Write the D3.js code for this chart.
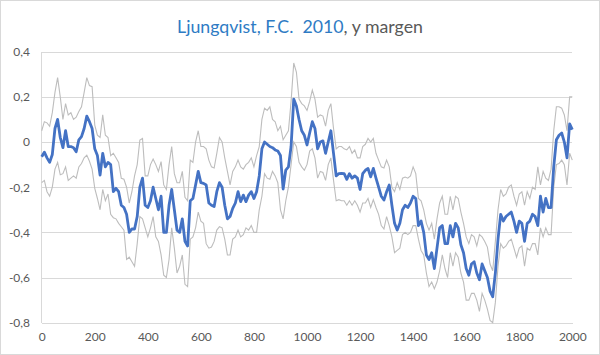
<!DOCTYPE html>
<html><head><meta charset="utf-8">
<script src="https://cdn.jsdelivr.net/npm/d3@7/dist/d3.min.js"></script>
<style>
body{margin:0;background:#fff}
svg{display:block}
text{font-family:Lato,"Open Sans",sans-serif}
</style>
</head><body>
<svg id="chart" width="600" height="355"></svg>
<script>
const years = d3.range(0, 2001, 10);
const reconstruction = [
-0.065,-0.045,-0.07,-0.09,-0.055,0.06,0.10,0.02,-0.025,0.05,
-0.02,-0.02,-0.025,-0.043,0.01,0.024,0.06,0.115,0.09,0.06,
-0.03,-0.06,-0.146,-0.05,-0.11,-0.09,-0.10,-0.22,-0.205,-0.22,
-0.28,-0.29,-0.32,-0.40,-0.385,-0.385,-0.33,-0.20,-0.16,-0.28,
-0.29,-0.26,-0.20,-0.25,-0.30,-0.24,-0.40,-0.40,-0.28,-0.21,
-0.30,-0.39,-0.40,-0.34,-0.44,-0.46,-0.26,-0.25,-0.19,-0.13,
-0.18,-0.183,-0.19,-0.27,-0.28,-0.286,-0.22,-0.18,-0.20,-0.28,
-0.34,-0.33,-0.294,-0.27,-0.22,-0.264,-0.235,-0.264,-0.235,-0.22,
-0.25,-0.22,-0.15,-0.03,0.0,-0.01,-0.02,-0.025,-0.035,-0.04,
-0.06,-0.208,-0.124,-0.11,-0.02,0.19,0.16,0.10,0.05,0.03,
-0.013,0.04,0.09,0.06,-0.03,0.0,0.005,-0.05,0.0,0.05,
-0.05,-0.15,-0.14,-0.139,-0.14,-0.165,-0.14,-0.16,-0.15,-0.16,
-0.21,-0.14,-0.125,-0.117,-0.154,-0.117,-0.16,-0.20,-0.24,-0.257,
-0.22,-0.19,-0.28,-0.36,-0.39,-0.36,-0.30,-0.28,-0.29,-0.27,
-0.24,-0.25,-0.37,-0.35,-0.40,-0.50,-0.52,-0.49,-0.56,-0.47,
-0.38,-0.37,-0.45,-0.45,-0.37,-0.42,-0.36,-0.38,-0.455,-0.49,
-0.56,-0.59,-0.54,-0.53,-0.58,-0.61,-0.54,-0.57,-0.60,-0.66,
-0.685,-0.58,-0.43,-0.32,-0.35,-0.33,-0.32,-0.31,-0.35,-0.40,
-0.35,-0.36,-0.44,-0.36,-0.35,-0.32,-0.33,-0.37,-0.24,-0.31,
-0.25,-0.29,-0.29,-0.11,0.01,0.03,0.04,0.0,-0.07,0.08,
0.055];
const upperMargin = [
0.05,0.09,0.085,0.07,0.13,0.22,0.285,0.20,0.10,0.17,
0.12,0.13,0.10,0.11,0.135,0.156,0.22,0.285,0.25,0.245,
0.075,0.03,0.02,0.12,0.03,0.02,-0.06,-0.05,-0.07,-0.09,
-0.161,-0.165,-0.20,-0.27,-0.22,-0.15,-0.10,0.009,0.016,-0.15,
-0.15,-0.10,-0.075,-0.10,-0.13,-0.087,-0.19,-0.21,-0.10,-0.02,
-0.14,-0.18,-0.18,-0.13,-0.245,-0.26,-0.08,-0.09,0.0,0.05,
-0.02,-0.02,-0.03,-0.08,-0.11,-0.115,-0.05,0.02,0.0,-0.07,
-0.13,-0.19,-0.13,-0.11,-0.08,-0.11,-0.12,-0.10,-0.09,-0.07,
-0.11,-0.06,-0.02,0.10,0.15,0.14,0.156,0.10,0.09,0.05,
0.07,0.01,0.03,0.05,0.18,0.35,0.31,0.19,0.17,0.16,
0.14,0.18,0.23,0.19,0.11,0.12,0.115,0.07,0.14,0.17,
0.06,-0.03,-0.02,-0.02,-0.03,-0.035,-0.02,-0.05,-0.035,-0.07,
-0.07,-0.02,-0.01,0.016,0.0,0.016,-0.05,-0.08,-0.11,-0.115,
-0.08,-0.11,-0.20,-0.22,-0.18,-0.21,-0.16,-0.155,-0.16,-0.15,
-0.11,-0.14,-0.25,-0.26,-0.30,-0.36,-0.39,-0.36,-0.43,-0.34,
-0.27,-0.24,-0.32,-0.32,-0.24,-0.30,-0.24,-0.25,-0.31,-0.36,
-0.42,-0.45,-0.41,-0.42,-0.46,-0.41,-0.42,-0.44,-0.465,-0.54,
-0.57,-0.44,-0.30,-0.21,-0.24,-0.23,-0.20,-0.19,-0.24,-0.28,
-0.23,-0.22,-0.28,-0.22,-0.25,-0.20,-0.21,-0.11,-0.19,-0.13,
-0.16,-0.17,-0.12,0.05,0.156,0.156,0.15,0.12,0.05,0.20,
0.20];
const lowerMargin = [
-0.18,-0.17,-0.22,-0.24,-0.20,-0.12,-0.09,-0.145,-0.14,-0.11,
-0.17,-0.16,-0.15,-0.16,-0.11,-0.095,-0.07,-0.058,-0.085,-0.12,
-0.205,-0.25,-0.30,-0.21,-0.26,-0.23,-0.32,-0.335,-0.34,-0.36,
-0.375,-0.39,-0.52,-0.51,-0.53,-0.55,-0.45,-0.33,-0.34,-0.38,
-0.42,-0.38,-0.33,-0.42,-0.44,-0.50,-0.59,-0.60,-0.52,-0.38,
-0.47,-0.58,-0.55,-0.50,-0.63,-0.64,-0.43,-0.42,-0.38,-0.31,
-0.35,-0.36,-0.45,-0.47,-0.465,-0.44,-0.39,-0.375,-0.38,-0.43,
-0.50,-0.50,-0.43,-0.42,-0.39,-0.42,-0.41,-0.38,-0.39,-0.37,
-0.40,-0.40,-0.30,-0.24,-0.14,-0.16,-0.165,-0.13,-0.15,-0.18,
-0.30,-0.34,-0.26,-0.20,-0.10,0.0,-0.02,-0.09,-0.11,-0.125,
-0.10,-0.04,-0.03,-0.07,-0.16,-0.13,-0.135,-0.17,-0.10,-0.07,
-0.17,-0.26,-0.255,-0.26,-0.26,-0.28,-0.26,-0.28,-0.26,-0.28,
-0.31,-0.27,-0.27,-0.25,-0.29,-0.255,-0.29,-0.32,-0.37,-0.385,
-0.33,-0.37,-0.42,-0.49,-0.48,-0.47,-0.41,-0.40,-0.41,-0.40,
-0.37,-0.37,-0.43,-0.48,-0.50,-0.58,-0.64,-0.62,-0.65,-0.62,
-0.57,-0.50,-0.56,-0.60,-0.49,-0.55,-0.49,-0.51,-0.58,-0.62,
-0.70,-0.70,-0.67,-0.67,-0.70,-0.75,-0.67,-0.70,-0.74,-0.79,
-0.80,-0.71,-0.55,-0.45,-0.47,-0.46,-0.44,-0.43,-0.47,-0.51,
-0.47,-0.46,-0.55,-0.47,-0.48,-0.45,-0.45,-0.50,-0.38,-0.42,
-0.38,-0.41,-0.41,-0.20,-0.10,-0.095,-0.08,-0.10,-0.19,-0.05,
-0.08];
const xTicks = [0,200,400,600,800,1000,1200,1400,1600,1800,2000];
const yTicks = [-0.8,-0.6,-0.4,-0.2,0,0.2,0.4];
const yTickLabels = ["-0,8","-0,6","-0,4","-0,2","0","0,2","0,4"];
const titleMain = "Ljungqvist, F.C.\u00a0\u00a02010";
const titleRest = ", y margen";

const W = 600, H = 355;
const svg = d3.select("#chart");
svg.append("rect").attr("x",0.5).attr("y",0.5).attr("width",W-1).attr("height",H-1)
  .attr("fill","#fff").attr("stroke","#d9d9d9");

const x = d3.scaleLinear().domain([0,2000]).range([41.7,572.3]);
const y = d3.scaleLinear().domain([-0.8,0.4]).range([322.7,51.7]);

// gridlines
const grid = svg.append("g").attr("transform",`translate(${x(0)},0)`)
  .call(d3.axisLeft(y).tickValues(yTicks).tickSize(-(x(2000)-x(0))).tickFormat(""));
grid.select(".domain").remove();
grid.selectAll("line").attr("stroke","#d9d9d9").attr("stroke-width",1).attr("shape-rendering","crispEdges");

// left axis line
svg.append("line").attr("x1",x(0)).attr("x2",x(0)).attr("y1",y(0.4)).attr("y2",y(-0.8))
  .attr("stroke","#d9d9d9").attr("shape-rendering","crispEdges");

// y labels
const yAxis = svg.append("g").attr("transform",`translate(30,0)`)
  .call(d3.axisLeft(y).tickValues(yTicks).tickSize(0).tickPadding(0)
    .tickFormat((d,i)=>yTickLabels[i]));
yAxis.select(".domain").remove();
yAxis.selectAll("text").attr("fill","#595959").style("font-size","12px").style("font-family","Lato");

// x labels
const xAxis = svg.append("g").attr("transform",`translate(0,${y(-0.8)})`)
  .call(d3.axisBottom(x).tickValues(xTicks).tickSize(0).tickPadding(10).tickFormat(d3.format("d")));
xAxis.select(".domain").attr("stroke","#d9d9d9").attr("shape-rendering","crispEdges");
xAxis.selectAll("text").attr("fill","#595959").style("font-size","12px").style("font-family","Lato");

const line = d3.line().x((d,i)=>x(years[i])).y(d=>y(d));
svg.append("path").datum(upperMargin).attr("d",line).attr("fill","none").attr("stroke","#bdbdbd").attr("stroke-width",1.1);
svg.append("path").datum(lowerMargin).attr("d",line).attr("fill","none").attr("stroke","#bdbdbd").attr("stroke-width",1.1);
svg.append("path").datum(reconstruction).attr("d",line).attr("fill","none").attr("stroke","#4472c4")
  .attr("stroke-width",2.8).attr("stroke-linejoin","round");

// title
const title = svg.append("text").attr("x",W/2).attr("y",33).attr("text-anchor","middle")
  .style("font-size","17px");
title.append("tspan").text(titleMain).attr("fill","#2e7bc4");
title.append("tspan").text(titleRest).attr("fill","#595959");
const tw = title.node().getComputedTextLength();
title.style("font-size", (17*246/tw).toFixed(2)+"px");
</script>
</body></html>
